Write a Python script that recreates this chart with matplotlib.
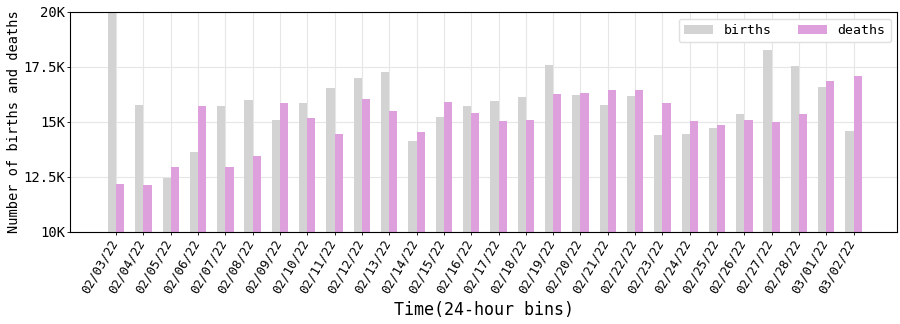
import matplotlib
matplotlib.use('Agg')
import matplotlib.pyplot as plt
import matplotlib.transforms as mtransforms
import numpy as np

dates = ['02/03/22', '02/04/22', '02/05/22', '02/06/22', '02/07/22', '02/08/22', '02/09/22',
         '02/10/22', '02/11/22', '02/12/22', '02/13/22', '02/14/22', '02/15/22', '02/16/22',
         '02/17/22', '02/18/22', '02/19/22', '02/20/22', '02/21/22', '02/22/22', '02/23/22',
         '02/24/22', '02/25/22', '02/26/22', '02/27/22', '02/28/22', '03/01/22', '03/02/22']
# 单位: K
births = [20.3, 15.77, 12.45, 13.64, 15.73, 16.0, 15.09, 15.86, 16.55, 17.0, 17.27, 14.14, 15.23, 15.73,
          15.95, 16.14, 17.59, 16.23, 15.77, 16.18, 14.41, 14.45, 14.73, 15.36, 18.27, 17.55, 16.59, 14.59]
deaths = [12.18, 12.14, 12.95, 15.73, 12.95, 13.45, 15.86, 15.18, 14.45, 16.05, 15.5, 14.55, 15.91, 15.41,
          15.05, 15.09, 16.27, 16.32, 16.45, 16.45, 15.86, 15.05, 14.86, 15.09, 15.0, 15.36, 16.86, 17.09]
yticks = [10, 12.5, 15, 17.5, 20]
yticklabels = ['10K', '12.5K', '15K', '17.5K', '20K']

plt.rcParams['font.family'] = ['DejaVu Sans Mono']

fig = plt.figure(figsize=(9, 3.24), dpi=100)
ax = fig.add_axes([0.078, 0.284, 0.919, 0.679])

x = np.arange(len(dates))
w = 0.3
ax.bar(x - w / 2, births, width=w, color='lightgray', label='births', zorder=2)
ax.bar(x + w / 2, deaths, width=w, color='plum', label='deaths', zorder=2)

ax.set_ylim(10, 20)
ax.set_xlim(-1.68, 28.6)
ax.set_yticks(yticks)
ax.set_yticklabels(yticklabels, fontsize=10)
ax.set_xticks(x)
ax.set_xticklabels(dates, rotation=60, ha='right', fontsize=9)
ax.tick_params(length=2.2, width=0.6)
ax.tick_params(axis='y', pad=1.5)
ax.tick_params(axis='x', pad=1.5)
# 标签整体右移一点
off = mtransforms.ScaledTranslation(3 / 72, 0, fig.dpi_scale_trans)
for lab in ax.get_xticklabels():
    lab.set_transform(lab.get_transform() + off)
ax.grid(True, color='#e6e6e6', linewidth=0.8, zorder=0)
ax.set_axisbelow(True)

ax.set_xlabel('Time(24-hour bins)', fontsize=12, labelpad=4)
ax.set_ylabel('Number of births and deaths', fontsize=9.8)
ax.yaxis.set_label_coords(-0.06, 0.5)

ax.legend(loc='upper right', ncol=2, fontsize=9.5, handlelength=2.2, columnspacing=2.0,
          framealpha=1, edgecolor='#e0e0e0')

fig.savefig('out.png', dpi=100)
